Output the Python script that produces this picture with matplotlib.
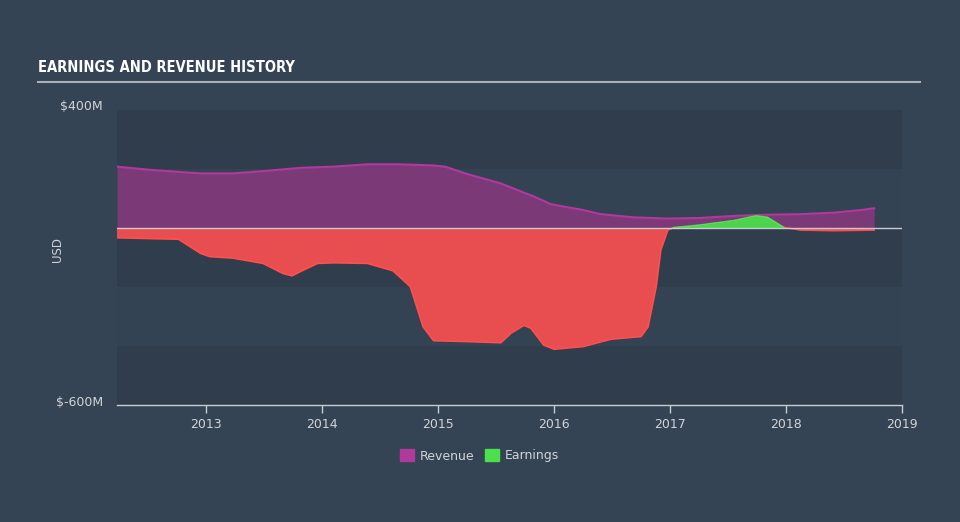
import matplotlib
matplotlib.use("Agg")
import matplotlib.pyplot as plt
import numpy as np
from matplotlib.patches import Rectangle

# revenue (USD millions) by fractional year
rev_years = [2012.23, 2012.52, 2012.95, 2013.23, 2013.53, 2013.81, 2014.10, 2014.39, 2014.67,
             2014.96, 2015.06, 2015.25, 2015.54, 2015.83, 2015.97, 2016.12, 2016.25, 2016.40,
             2016.69, 2016.98, 2017.26, 2017.55, 2017.84, 2018.13, 2018.41, 2018.65, 2018.76]
revenue = [208, 197, 185, 185, 194, 204, 208, 216, 216,
           212, 208, 183, 151, 106, 81, 70, 61, 47,
           36, 32, 34, 41, 45, 47, 52, 61, 67]

# earnings (USD millions)
earn_years = [2012.23, 2012.52, 2012.76, 2012.95, 2013.03, 2013.23, 2013.49, 2013.66, 2013.74,
              2013.81, 2013.96, 2014.10, 2014.39, 2014.61, 2014.76, 2014.87, 2014.96, 2015.25,
              2015.54, 2015.63, 2015.74, 2015.80, 2015.91, 2016.00, 2016.25, 2016.49, 2016.75,
              2016.81, 2016.88, 2016.92, 2016.98, 2017.03, 2017.26, 2017.55, 2017.74, 2017.84,
              2017.98, 2018.13, 2018.41, 2018.76]
earnings = [-33, -36, -38, -86, -97, -102, -120, -154, -162,
            -148, -120, -118, -120, -145, -199, -335, -382, -385,
            -389, -356, -330, -340, -397, -411, -402, -377, -368,
            -335, -199, -75, -7, 1, 10, 25, 41, 36,
            2, -7, -9, -7]

year_ticks = [2013, 2014, 2015, 2016, 2017, 2018, 2019]

bg = "#344454"
band_dark = "#2f3d4d"
band_light = "#334353"

fig = plt.figure(figsize=(9.6, 5.22), dpi=100, facecolor=bg)
ax = fig.add_axes([117/960, 1-405/522, (902-117)/960, (405-110)/522])
ax.set_facecolor(bg)

# horizontal bands
for i, lo in enumerate(range(-600, 400, 200)):
    ax.axhspan(lo, lo + 200, color=band_dark if i % 2 == 0 else band_light, lw=0, zorder=0)

ry = np.array(rev_years)
rv = np.array(revenue)
ey = np.array(earn_years)
ev = np.array(earnings)

ax.fill_between(ry, 0, rv, color="#7b3a77", lw=0, zorder=2)
ax.plot(ry, rv, color="#b0399c", lw=1.5, zorder=3)

ax.fill_between(ey, 0, ev, where=ev <= 0, interpolate=True, color="#e84d4f", lw=0, zorder=4)
ax.fill_between(ey, 0, ev, where=ev >= 0, interpolate=True, color="#4cd44c", lw=0, zorder=4)
neg = np.ma.masked_where(ev > 5, ev)
ax.plot(ey, neg, color="#ff4f4f", lw=1.2, zorder=5)
pos = np.ma.masked_where(ev < 0, ev)
ax.plot(ey, pos, color="#55e055", lw=1.2, zorder=5)

ax.axhline(0, color="#c8ccd0", lw=1, zorder=6)

ax.set_xlim(2012.23, 2018.99)
ax.set_ylim(-600, 400)

for s in ["top", "right", "left"]:
    ax.spines[s].set_visible(False)
ax.spines["bottom"].set_color("#c8ccd0")
ax.spines["bottom"].set_linewidth(1)

ax.set_xticks(year_ticks)
ax.set_xticklabels([str(y) for y in year_ticks])
ax.tick_params(axis="x", colors="#c8ccd0", labelcolor="#d0d4d8", length=6, width=1,
               labelsize=9, pad=3)
ax.set_yticks([])

fig.text(103/960, 1-107/522, "$400M", color="#d0d4d8", fontsize=9, ha="right", va="center")
fig.text(103/960, 1-403/522, "$-600M", color="#d0d4d8", fontsize=9, ha="right", va="center")
fig.text(57/960, 1-250/522, "USD", color="#d0d4d8", fontsize=8.5, ha="center", va="center",
         rotation=90)

# title and underline
fig.text(38/960, 1-68/522, "EARNINGS AND REVENUE HISTORY", color="white", fontsize=10.5,
         fontweight="bold", fontstretch="condensed", ha="left", va="center")
fig.add_artist(plt.Line2D([38/960, 920/960], [1-82/522, 1-82/522], color="#aab0b8", lw=1.5))

# legend
fig.add_artist(Rectangle((400/960, 1-461/522), 14/960, 12/522, color="#b0399c",
                         transform=fig.transFigure))
fig.text(420/960, 1-456/522, "Revenue", color="#d0d4d8", fontsize=9, va="center")
fig.add_artist(Rectangle((485/960, 1-461/522), 14/960, 12/522, color="#4de04d",
                         transform=fig.transFigure))
fig.text(505/960, 1-456/522, "Earnings", color="#d0d4d8", fontsize=9, va="center")

fig.savefig("out.png", dpi=100, facecolor=bg)
